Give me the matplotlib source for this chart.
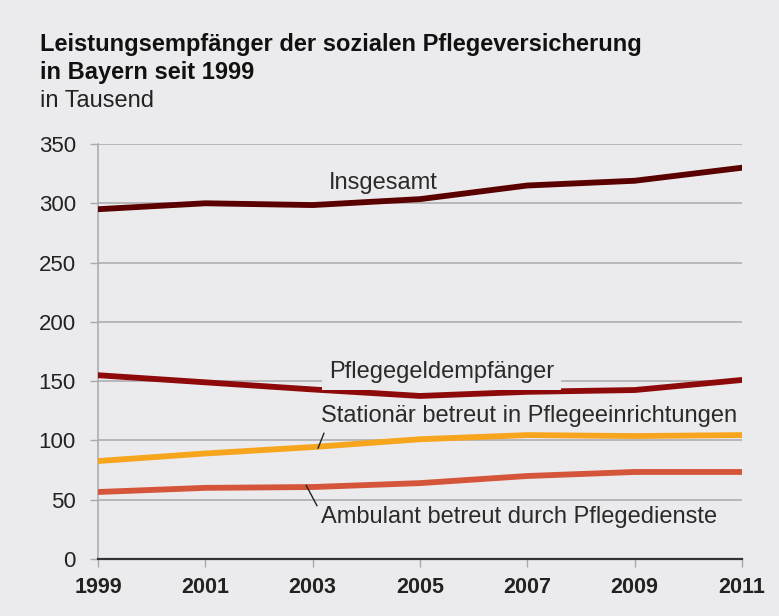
import matplotlib
matplotlib.use("Agg")
import matplotlib.pyplot as plt

years = [1999, 2001, 2003, 2005, 2007, 2009, 2011]
insgesamt = [295, 300, 298.5, 303.5, 315, 319, 330]
pflegegeld = [155, 149, 143, 137.5, 141, 142.5, 151]
stationaer = [82.6, 89, 94.4, 101, 104.5, 103.7, 104.5]
ambulant = [56.5, 60, 60.7, 64, 70, 73.4, 73.4]
yticks = [0, 50, 100, 150, 200, 250, 300, 350]

bg = "#ebebed"
plt.rcParams["font.family"] = ["Liberation Sans", "DejaVu Sans"]

fig = plt.figure(figsize=(7.79, 6.16), dpi=100, facecolor=bg)
ax = fig.add_axes([98/779, 1-559/616, (742-98)/779, (559-144)/616], facecolor=bg)

for y in yticks[1:]:
    ax.axhline(y, color="#a9a9ab", lw=1.1, zorder=1)

ax.plot(years, ambulant, color="#d4553a", lw=4.2, solid_capstyle="round", zorder=3)
ax.plot(years, stationaer, color="#f6a51d", lw=4.2, solid_capstyle="round", zorder=3)
ax.plot(years, pflegegeld, color="#8e0a0a", lw=4.2, solid_capstyle="round", zorder=3)
ax.plot(years, insgesamt, color="#5a0000", lw=4.2, solid_capstyle="round", zorder=3)

ax.set_xlim(1999, 2011)
ax.set_ylim(0, 350)
ax.set_xticks(years)
ax.set_xticklabels([str(y) for y in years], fontsize=15.5, fontweight="bold", color="#222222")
ax.set_yticks(yticks)
ax.set_yticklabels([str(y) for y in yticks], fontsize=16, color="#222222")
ax.tick_params(axis="y", length=6, width=1, color="#a9a9ab", pad=10)
ax.tick_params(axis="x", length=6, width=1, color="#a9a9ab", pad=7)
for s in ["top", "right"]:
    ax.spines[s].set_visible(False)
ax.spines["left"].set_color("#a9a9ab")
ax.spines["left"].set_linewidth(1.1)
ax.spines["bottom"].set_color("#333333")
ax.spines["bottom"].set_linewidth(1.6)
ax.spines["bottom"].set_zorder(4)

tk = dict(fontsize=17, color="#2a2a2a", zorder=5)
ax.text(2003.3, 317, "Insgesamt", ha="left", va="center", **tk)
ax.text(2003.3, 158, "Pflegegeldempfänger", ha="left", va="center",
        bbox=dict(boxstyle="square,pad=0.3", fc=bg, ec="none"), **tk)
ax.text(2003.15, 120.5, "Stationär betreut in Pflegeeinrichtungen", ha="left", va="center",
        bbox=dict(boxstyle="square,pad=0.1", fc=bg, ec="none"), **tk)
ax.text(2003.15, 35.5, "Ambulant betreut durch Pflegedienste", ha="left", va="center", **tk)

ax.plot([2003.1, 2003.21], [93.5, 106], color="#222222", lw=1, zorder=6)
ax.plot([2002.88, 2003.08], [62, 45], color="#222222", lw=1, zorder=6)

fig.text(40/779, 1-45/616, "Leistungsempfänger der sozialen Pflegeversicherung",
         fontsize=17, fontweight="bold", color="#111111", va="center")
fig.text(40/779, 1-72/616, "in Bayern seit 1999",
         fontsize=17, fontweight="bold", color="#111111", va="center")
fig.text(40/779, 1-101/616, "in Tausend", fontsize=17, color="#222222", va="center")

fig.savefig("out.png", dpi=100, facecolor=bg)
